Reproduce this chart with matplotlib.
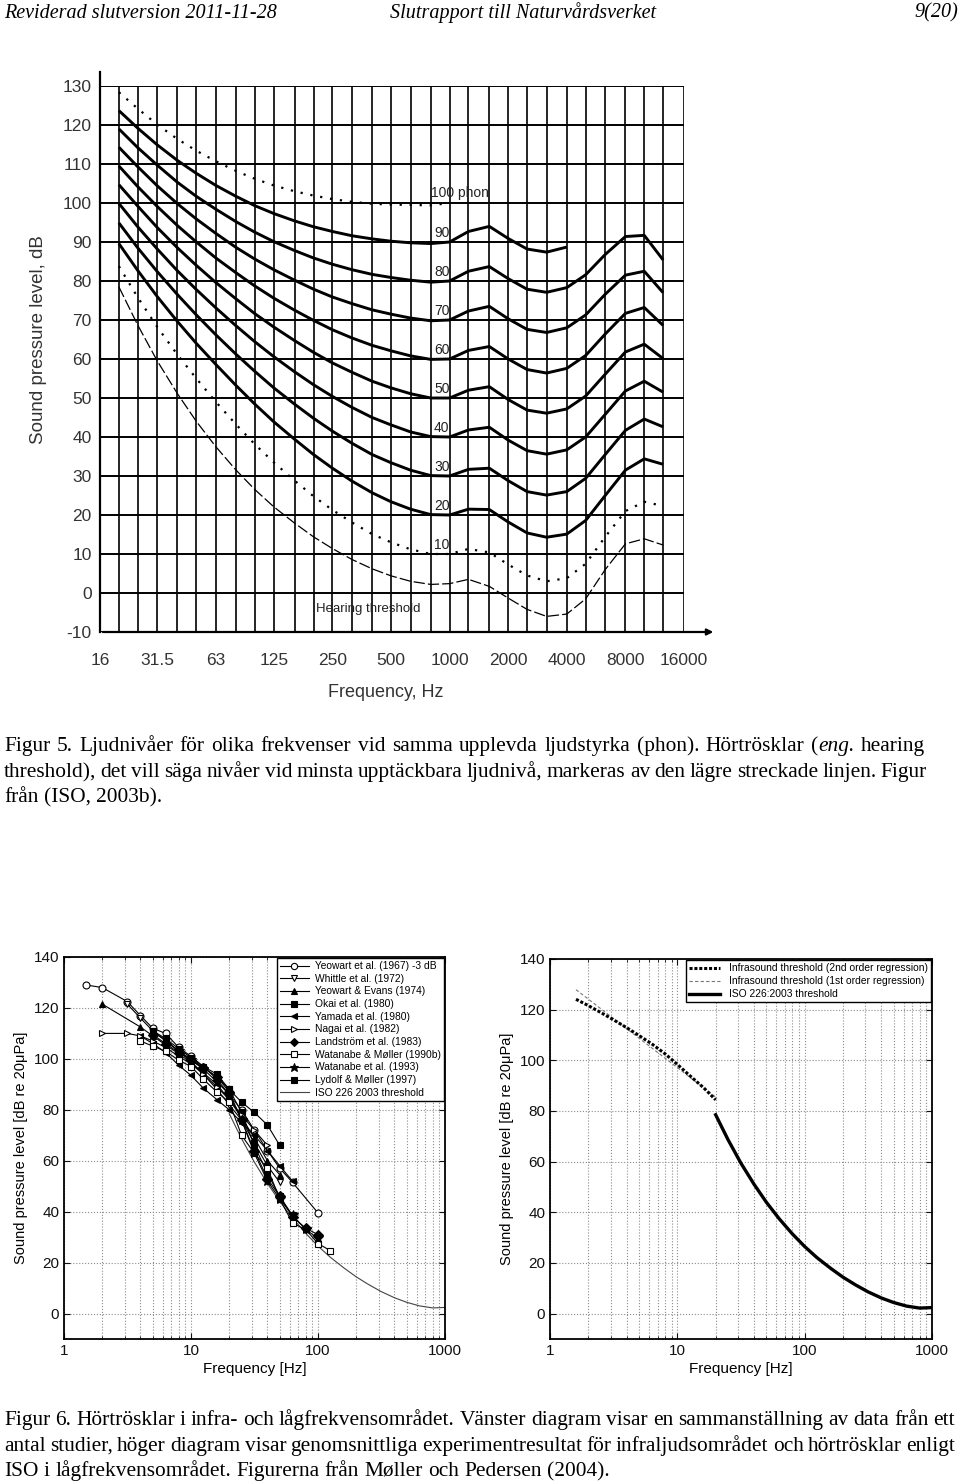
import matplotlib
matplotlib.use("Agg")
import matplotlib.pyplot as plt
from matplotlib.ticker import FixedLocator, NullFormatter, LogLocator

# Page size in pixels
W, H = 960, 1483

# ------------------------------------------------------------------
# Figur 5 - equal loudness contours
# ------------------------------------------------------------------
freq_3rd = [20, 25, 31.5, 40, 50, 63, 80, 100, 125, 160, 200, 250, 315, 400, 500,
            630, 800, 1000, 1250, 1600, 2000, 2500, 3150, 4000, 5000, 6300, 8000,
            10000, 12500]

threshold = [78.5, 68.7, 59.5, 51.1, 44.0, 37.5, 31.5, 26.5, 22.1, 17.9, 14.4, 11.4, 8.6,
             6.2, 4.4, 3.0, 2.2, 2.4, 3.5, 1.7, -1.3, -4.2, -6.0, -5.4, -1.5, 6.0, 12.6,
             13.9, 12.3]
phon10 = [83.8, 75.8, 68.2, 61.1, 55.0, 49.0, 43.2, 38.1, 33.5, 28.8, 24.8, 21.3, 18.1, 15.1,
          13.0, 11.2, 10.0, 10.0, 11.3, 10.4, 7.3, 4.5, 3.0, 3.8, 7.5, 14.4, 21.0, 23.4, 22.3]
phon20 = [89.6, 82.7, 76.0, 69.6, 64.0, 58.6, 53.2, 48.4, 43.9, 39.4, 35.5, 32.0, 28.7, 25.7,
          23.4, 21.5, 20.1, 20.0, 21.5, 21.4, 18.2, 15.4, 14.3, 15.1, 18.6, 25.0, 31.5, 34.4, 33.0]
phon30 = [94.9, 88.5, 82.4, 76.5, 71.3, 66.2, 61.2, 56.8, 52.6, 48.4, 44.8, 41.5, 38.4, 35.5,
          33.4, 31.5, 30.1, 30.0, 31.7, 32.0, 28.8, 26.0, 25.1, 26.0, 29.4, 35.5, 41.7, 44.6, 42.6]
phon40 = [99.9, 93.9, 88.2, 82.6, 77.8, 73.1, 68.5, 64.4, 60.6, 56.7, 53.4, 50.4, 47.6, 45.0,
          43.1, 41.3, 40.1, 40.0, 41.8, 42.5, 39.2, 36.5, 35.6, 36.7, 40.0, 45.8, 51.8, 54.3, 51.5]
phon50 = [104.7, 99.2, 93.7, 88.5, 84.0, 79.6, 75.4, 71.6, 68.2, 64.7, 61.7, 59.0, 56.6, 54.3,
          52.6, 51.1, 50.0, 50.0, 52.0, 52.9, 49.6, 46.9, 46.1, 47.2, 50.5, 56.1, 61.8, 63.8, 60.1]
phon60 = [109.5, 104.2, 99.1, 94.2, 90.0, 85.9, 82.1, 78.7, 75.6, 72.5, 69.9, 67.5, 65.4, 63.5,
          62.1, 60.8, 59.9, 60.0, 62.2, 63.2, 60.0, 57.3, 56.4, 57.6, 60.9, 66.4, 71.7, 73.2, 68.6]
phon70 = [114.3, 109.3, 104.4, 99.8, 95.9, 92.2, 88.6, 85.6, 82.9, 80.2, 77.9, 75.9, 74.2, 72.6,
          71.5, 70.5, 69.8, 70.0, 72.3, 73.5, 70.3, 67.6, 66.8, 68.0, 71.3, 76.6, 81.5, 82.5, 77.0]
phon80 = [119.0, 114.2, 109.7, 105.3, 101.7, 98.4, 95.2, 92.5, 90.1, 87.8, 85.9, 84.3, 82.9, 81.7,
          80.9, 80.2, 79.7, 80.0, 82.5, 83.7, 80.6, 77.9, 77.1, 78.3, 81.6, 86.8, 91.4, 91.7, 85.4]
phon90 = [123.7, 119.2, 114.9, 110.9, 107.6, 104.5, 101.7, 99.3, 97.3, 95.4, 93.9, 92.7, 91.6,
          90.8, 90.2, 89.8, 89.6, 90.0, 92.7, 94.0, 90.9, 88.2, 87.4, 88.7]
phon100 = [128.4, 124.2, 120.1, 116.4, 113.4, 110.7, 108.2, 106.2, 104.5, 103.0, 101.9, 101.0,
           100.3, 99.8, 99.6, 99.5, 99.4, 100.0]

solid_curves = [phon20, phon30, phon40, phon50, phon60, phon70, phon80, phon90]
curve_labels = ["10", "20", "30", "40", "50", "60", "70", "80", "90"]
label_levels = [10, 20, 30, 40, 50, 60, 70, 80, 90]

grid_freqs = [16, 20, 25, 31.5, 40, 50, 63, 80, 100, 125, 160, 200, 250, 315, 400, 500, 630,
              800, 1000, 1250, 1600, 2000, 2500, 3150, 4000, 5000, 6300, 8000, 10000, 12500, 16000]
octave_ticks = [16, 31.5, 63, 125, 250, 500, 1000, 2000, 4000, 8000, 16000]
octave_labels = ["16", "31.5", "63", "125", "250", "500", "1000", "2000", "4000", "8000", "16000"]
db_ticks = [-10, 0, 10, 20, 30, 40, 50, 60, 70, 80, 90, 100, 110, 120, 130]

# ------------------------------------------------------------------
# Figur 6 left - threshold studies
# ------------------------------------------------------------------
yeowart67_f = [1.5, 2, 3.15, 4, 5, 6.3, 8, 10, 12.5, 16, 20, 25, 31.5, 40, 50, 63, 100]
yeowart67_y = [129, 128, 122.5, 117, 112, 110, 104.5, 101, 97, 92, 86, 80, 72, 64, 57, 51.5, 39.5]
whittle_f = [3.15, 4, 5, 6.3, 8, 10, 12.5, 16, 20, 25, 31.5, 40, 50]
whittle_y = [121.5, 116, 111, 107, 103, 99, 94, 88, 82, 76, 67, 58, 51.5]
yeowart74_f = [2, 4, 5, 6.3, 8, 10, 12.5, 16, 20, 25, 31.5, 40, 50]
yeowart74_y = [121.5, 112.5, 109, 105.5, 102, 98.5, 94.5, 90, 84, 77, 69, 60, 54.5]
okai_f = [5, 6.3, 8, 10, 12.5, 16, 20, 25, 31.5, 40, 50, 63]
okai_y = [110.5, 107.5, 103, 100, 96.5, 93, 88, 79, 66, 55, 46, 38.5]
yamada_f = [4, 5, 6.3, 8, 10, 12.5, 16, 20, 25, 31.5, 40, 50, 63]
yamada_y = [109, 106, 102.5, 97.5, 93.5, 88.5, 84, 80, 75, 70, 64, 58, 52]
nagai_f = [2, 3.15, 4, 5, 6.3, 8, 10, 12.5, 16, 20, 25, 31.5, 40]
nagai_y = [110, 110, 109, 107, 104.5, 101, 98, 94, 89, 84, 78, 72, 66]
landstrom_f = [5, 6.3, 8, 10, 12.5, 16, 20, 25, 31.5, 40, 50, 63, 80, 100]
landstrom_y = [109.5, 106, 102.5, 99.5, 96.5, 93, 87, 76, 64, 53, 46, 38, 33.5, 31]
watmol_f = [4, 5, 6.3, 8, 10, 12.5, 16, 20, 25, 31.5, 40, 50, 63, 80, 100, 125]
watmol_y = [107, 105, 103, 99.5, 97, 92, 87, 83, 70, 63, 57, 45, 35.5, 33, 27.5, 24.7]
watanabe_f = [8, 10, 12.5, 16, 20, 25, 31.5, 40, 50, 63, 80, 100]
watanabe_y = [103, 99.5, 96, 91, 86, 76, 63, 52, 45, 38.5, 33, 29.5]
lydolf_f = [5, 6.3, 8, 10, 12.5, 16, 20, 25, 31.5, 40, 50]
lydolf_y = [111, 108, 104, 100.5, 97, 94, 88, 83, 79, 74, 66]

iso_f = [20, 25, 31.5, 40, 50, 63, 80, 100, 125, 160, 200, 250, 315, 400, 500, 630, 800, 1000]
iso_y = [78.5, 68.7, 59.5, 51.1, 44.0, 37.5, 31.5, 26.5, 22.1, 17.9, 14.4, 11.4, 8.6, 6.2,
         4.4, 3.0, 2.2, 2.4]

# Figur 6 right - regressions
reg2_f = [1.6, 2, 2.5, 3.15, 4, 5, 6.3, 8, 10, 12.5, 16, 20]
reg2_y = [124.1, 121.6, 118.9, 116.0, 112.9, 109.8, 106.5, 102.6, 98.4, 94.0, 89.3, 84.4]
reg1_f = [1.6, 20]
reg1_y = [127.9, 85.5]

studies = [
    ("Yeowart et al. (1967) -3 dB", yeowart67_f, yeowart67_y, "o", "white"),
    ("Whittle et al. (1972)", whittle_f, whittle_y, "v", "white"),
    ("Yeowart & Evans (1974)", yeowart74_f, yeowart74_y, "^", "black"),
    ("Okai et al. (1980)", okai_f, okai_y, "s", "black"),
    ("Yamada et al. (1980)", yamada_f, yamada_y, "<", "black"),
    ("Nagai et al. (1982)", nagai_f, nagai_y, ">", "white"),
    ("Landström et al. (1983)", landstrom_f, landstrom_y, "D", "black"),
    ("Watanabe & Møller (1990b)", watmol_f, watmol_y, "s", "white"),
    ("Watanabe et al. (1993)", watanabe_f, watanabe_y, "*", "black"),
    ("Lydolf & Møller (1997)", lydolf_f, lydolf_y, "s", "black"),
]

# caption lines: (pixel baseline, right edge for justified lines or None, pieces)
caption5 = [
    (751, 925, [("Figur 5. Ljudnivåer för olika frekvenser vid samma upplevda ljudstyrka (phon). Hörtrösklar (", "normal"),
                ("eng.", "italic"), (" hearing", "normal")]),
    (777, 927, [("threshold), det vill säga nivåer vid minsta upptäckbara ljudnivå, markeras av den lägre streckade linjen. Figur", "normal")]),
    (802, None, [("från (ISO, 2003b).", "normal")]),
]
caption6 = [
    (1425, 955, [("Figur 6. Hörtrösklar i infra- och lågfrekvensområdet. Vänster diagram visar en sammanställning av data från ett", "normal")]),
    (1451, 955, [("antal studier, höger diagram visar genomsnittliga experimentresultat för infraljudsområdet och hörtrösklar enligt", "normal")]),
    (1476, None, [("ISO i lågfrekvensområdet. Figurerna från Møller och Pedersen (2004).", "normal")]),
]

plt.rcParams['font.family'] = ['Liberation Sans', 'DejaVu Sans']
plt.rcParams['axes.unicode_minus'] = False


def box(x0, y0, x1, y1):
    # pixel box (top-left origin) -> figure fraction rect
    return [x0 / W, 1 - y1 / H, (x1 - x0) / W, (y1 - y0) / H]


def fx(x):
    return x / W


def fy(y):
    return 1 - y / H


fig = plt.figure(figsize=(W / 100, H / 100), dpi=100)
fig.patch.set_facecolor("white")
renderer = fig.canvas.get_renderer()

# ------------------------------------------------------------------
# Page header
# ------------------------------------------------------------------
hdr = dict(family="Liberation Serif", style="italic", fontsize=14.5, va="center", color="black")
fig.text(fx(4), fy(13), "Reviderad slutversion 2011-11-28", ha="left", **hdr)
fig.text(fx(390), fy(13), "Slutrapport till Naturvårdsverket", ha="left", **hdr)
fig.text(fx(958), fy(13), "9(20)", ha="right", **hdr)

# ------------------------------------------------------------------
# Top chart
# ------------------------------------------------------------------
ax = fig.add_axes(box(100, 86, 684, 632))
ax.set_xscale("log")
ax.set_xlim(16, 16000)
ax.set_ylim(-10, 130)
for s in ax.spines.values():
    s.set_visible(False)
for f in grid_freqs:
    ax.axvline(f, color="black", lw=1.2, zorder=1)
for d in db_ticks:
    ax.axhline(d, color="black", lw=1.4, zorder=1)

ax.plot(freq_3rd, threshold, color="black", lw=0.9, ls=(0, (9, 2.5)), zorder=3)
ax.plot(freq_3rd, phon10, color="black", lw=1.6, ls=(0, (1, 3.5)), zorder=3)
for c in solid_curves:
    ax.plot(freq_3rd[:len(c)], c, color="black", lw=2.1, zorder=3, solid_capstyle="butt")
ax.plot(freq_3rd[:len(phon100)], phon100, color="black", lw=1.6, ls=(0, (1, 3.5)), zorder=3)

for lab, lev in zip(curve_labels, label_levels):
    ax.text(1000, lev + 0.6, lab, ha="right", va="bottom", fontsize=10, color="#222222", zorder=4)
ax.text(800, 100.8, "100 phon", ha="left", va="bottom", fontsize=10, color="#222222", zorder=4)
ax.text(205, -4, "Hearing threshold", ha="left", va="center", fontsize=9.5, color="#222222", zorder=4)

# axis lines: left extends above the grid, bottom ends in an arrow
ax.plot([0, 0], [0, 1.025], transform=ax.transAxes, color="black", lw=1.6, clip_on=False)
ax.annotate("", xy=(1.055, 0), xytext=(0, 0), xycoords="axes fraction",
            arrowprops=dict(arrowstyle="-|>", color="black", lw=1.6, mutation_scale=9))

ax.xaxis.set_major_locator(FixedLocator(octave_ticks))
ax.xaxis.set_minor_locator(FixedLocator([]))
ax.set_xticklabels(octave_labels)
ax.set_yticks(db_ticks)
ax.tick_params(length=0, labelsize=12.5, colors="#333333")
ax.tick_params(axis="x", pad=15)
ax.tick_params(axis="y", pad=6)
ax.set_xlabel("Frequency, Hz", fontsize=13, color="#333333")
ax.set_ylabel("Sound pressure level, dB", fontsize=13.5, color="#333333")
ax.xaxis.set_label_coords(0.49, -0.095)
ax.yaxis.set_label_coords(-0.09, 0.535)

# ------------------------------------------------------------------
# Captions: justified lines, word by word
# ------------------------------------------------------------------
cap = dict(family="Liberation Serif", fontsize=15.4, va="baseline", color="black")


def measure(txt, sty="normal"):
    t = fig.text(0, 0, txt, style=sty, **cap)
    w = t.get_window_extent(renderer=renderer).width
    t.remove()
    return w


def caption_line(y, right, pieces, x0=4):
    words = []
    for txt, sty in pieces:
        for i, w in enumerate(txt.split(" ")):
            if w == "":
                continue
            # words glued to the previous piece (no space before them)
            glued = (i == 0 and not txt.startswith(" ") and len(words) > 0)
            words.append((w, sty, glued))
    widths = [measure(w, sty) for w, sty, _ in words]
    gap = measure("a a") - 2 * measure("a")
    n_gaps = sum(1 for w in words[1:] if not w[2])
    if right is not None and n_gaps > 0:
        gap = (right - x0 - sum(widths)) / n_gaps
    x = x0
    for k, ((w, sty, glued), wd) in enumerate(zip(words, widths)):
        if k > 0 and not glued:
            x += gap
        fig.text(fx(x), fy(y), w, ha="left", style=sty, **cap)
        x += wd


for y, right, pieces in caption5 + caption6:
    caption_line(y, right, pieces)


# ------------------------------------------------------------------
# Bottom charts
# ------------------------------------------------------------------
def style_bottom(a):
    a.set_xscale("log")
    a.set_xlim(1, 1000)
    a.set_ylim(-10, 140)
    a.set_yticks([0, 20, 40, 60, 80, 100, 120, 140])
    a.xaxis.set_major_locator(FixedLocator([1, 10, 100, 1000]))
    a.xaxis.set_minor_locator(LogLocator(base=10, subs=range(2, 10)))
    a.xaxis.set_minor_formatter(NullFormatter())
    a.set_xticklabels(["1", "10", "100", "1000"])
    a.grid(True, which="major", axis="both", color="#8c8c8c", ls=":", lw=0.8)
    a.grid(True, which="minor", axis="x", color="#8c8c8c", ls=":", lw=0.8)
    a.tick_params(which="both", direction="in", top=True, right=True, labelsize=11,
                  colors="#111111")
    a.tick_params(which="major", length=4)
    a.tick_params(which="minor", length=2)
    for s in a.spines.values():
        s.set_linewidth(1.3)
    a.set_xlabel("Frequency [Hz]", fontsize=11, labelpad=3)
    a.set_ylabel("Sound pressure level [dB re 20\u03bcPa]", fontsize=10.5, labelpad=4)


axl = fig.add_axes(box(64, 957, 445, 1339))
style_bottom(axl)
handles = []
for lab, f, y, m, fc in studies:
    ms = 7 if m == "*" else 5
    h, = axl.plot(f, y, color="black", lw=0.8, marker=m, mfc=fc, mec="black", ms=ms,
                  mew=0.8, label=lab, zorder=3)
    handles.append(h)
h, = axl.plot(iso_f, iso_y, color="#444444", lw=0.8, label="ISO 226 2003 threshold", zorder=2)
handles.append(h)
axl.legend(handles=handles, loc="upper right", fontsize=7.4, frameon=True, fancybox=False,
           edgecolor="black", borderaxespad=0.1, handlelength=2.8, labelspacing=0.26,
           borderpad=0.3, handletextpad=0.6, framealpha=1, markerscale=0.9)

axr = fig.add_axes(box(550, 959, 932, 1339))
style_bottom(axr)
h1, = axr.plot(reg2_f, reg2_y, color="black", lw=2.2, ls=(0, (1, 0.6)),
               label="Infrasound threshold (2nd order regression)", zorder=3)
h2, = axr.plot(reg1_f, reg1_y, color="#777777", lw=0.8, ls=(0, (3, 2)),
               label="Infrasound threshold (1st order regression)", zorder=2)
h3, = axr.plot(iso_f, iso_y, color="black", lw=2.4, label="ISO 226:2003 threshold", zorder=3)
axr.legend(handles=[h1, h2, h3], loc="upper right", fontsize=7.4, frameon=True, fancybox=False,
           edgecolor="black", borderaxespad=0.1, handlelength=3.0, labelspacing=0.3,
           borderpad=0.3, handletextpad=0.9, framealpha=1)

fig.savefig("out.png", dpi=100, facecolor="white")
